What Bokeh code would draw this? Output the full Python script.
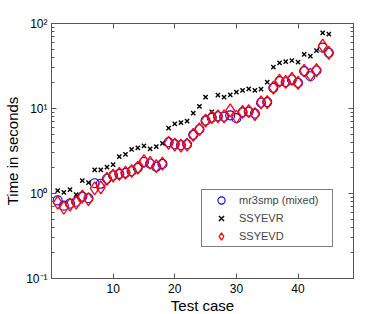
from bokeh.plotting import figure
from bokeh.models import (Range1d, FixedTicker, LinearAxis, LogAxis,
                          CustomJSTickFormatter, Legend, LegendItem)
from bokeh.embed import file_html
from bokeh.resources import INLINE

cases = list(range(1, 46))
mr3smp = [0.83, 0.72, 0.76, 0.80, 0.92, 0.88, 1.32, 1.30, 1.49, 1.63,
          1.70, 1.75, 1.83, 2.00, 2.35, 2.25, 2.06, 2.23, 4.00, 3.80,
          3.70, 3.80, 4.90, 5.70, 7.20, 7.80, 8.10, 8.00, 8.30, 7.70,
          9.00, 9.20, 8.70, 11.7, 11.9, 17.5, 21.0, 20.4, 21.9, 20.0,
          27.5, 24.0, 28.0, 52.0, 45.2]
ssyevr = [1.08, 1.03, 1.11, 0.97, 1.42, 1.34, 1.90, 1.90, 2.04, 2.18,
          2.72, 2.88, 3.30, 3.45, 3.64, 3.36, 3.57, 3.90, 5.86, 6.60,
          6.84, 7.10, 8.80, 10.6, 13.6, 9.10, 14.4, 13.6, 14.5, 15.6,
          16.3, 17.0, 16.3, 16.9, 20.4, 30.6, 34.4, 35.7, 36.7, 35.1,
          43.2, 41.2, 48.1, 77.6, 74.8]
ssyevd = [0.78, 0.68, 0.74, 0.78, 0.92, 0.86, 1.15, 1.18, 1.49, 1.62,
          1.70, 1.76, 1.84, 2.02, 2.40, 2.30, 2.10, 2.25, 3.95, 3.75,
          3.65, 3.75, 4.90, 5.70, 7.20, 7.90, 8.10, 8.10, 9.50, 8.00,
          9.10, 9.30, 8.60, 11.8, 11.9, 17.6, 21.3, 20.6, 22.3, 20.0,
          27.8, 25.0, 28.2, 55.0, 45.0]
series_names = ["mr3smp (mixed)", "SSYEVR", "SSYEVD"]
x_ticks = [10, 20, 30, 40]
y_ticks = [0.1, 1, 10, 100]
y_minor = [m * d for d in [0.1, 1, 10] for m in range(2, 10)]

FONT = "Liberation Sans"
AX = "#555555"

p = figure(frame_width=302, frame_height=255, y_axis_type="log",
           x_range=Range1d(0, 49), y_range=Range1d(0.1, 100),
           output_backend="svg", toolbar_location=None,
           min_border_left=51, min_border_right=37,
           min_border_top=23, min_border_bottom=36,
           background_fill_color="white", border_fill_color="white")
p.xgrid.visible = False
p.ygrid.visible = False
p.outline_line_color = AX

bottom = p.xaxis[0]
left = p.yaxis[0]

sup_js = """
const e = Math.round(Math.log10(tick));
const sup = {"-":"\u207b","0":"\u2070","1":"\u00b9","2":"\u00b2","3":"\u00b3",
             "4":"\u2074","5":"\u2075","6":"\u2076","7":"\u2077","8":"\u2078","9":"\u2079"};
return "10" + String(e).split("").map(c => sup[c]).join("");
"""
blank = CustomJSTickFormatter(code="return '';")

yt = FixedTicker(ticks=y_ticks, minor_ticks=y_minor)
xt = FixedTicker(ticks=x_ticks, minor_ticks=[])

bottom.ticker = xt
left.ticker = yt
left.formatter = CustomJSTickFormatter(code=sup_js)

right = LogAxis(ticker=yt, formatter=blank)
top = LinearAxis(ticker=xt, formatter=blank)
p.add_layout(right, "right")
p.add_layout(top, "above")

for ax in [bottom, left, right, top]:
    ax.axis_line_color = AX
    ax.major_tick_line_color = AX
    ax.minor_tick_line_color = AX
    ax.major_tick_in = 5
    ax.major_tick_out = 0
    ax.minor_tick_in = 3
    ax.minor_tick_out = 0
    ax.major_label_text_font = FONT
    ax.major_label_text_font_size = "12px"
    ax.major_label_text_color = "black"
    ax.axis_label_text_font = FONT
    ax.axis_label_text_font_size = "15px"
    ax.axis_label_text_font_style = "normal"
    ax.axis_label_text_color = "black"

bottom.axis_label = "Test case"
bottom.major_label_standoff = 5
bottom.axis_label_standoff = 1
left.axis_label = "Time in seconds"
left.major_label_standoff = 4
left.axis_label_standoff = 2
right.major_label_standoff = 0
top.major_label_standoff = 0

r1 = p.scatter(cases, mr3smp, marker="circle", size=9, fill_color=None,
               line_color="#0000ff", line_width=1.1)
r2 = p.scatter(cases, ssyevr, marker="x", size=6, line_color="black",
               line_width=1.4)
r3 = p.scatter(cases, ssyevd, marker="diamond", size=13, fill_color=None,
               line_color="#ff0000", line_width=1.3)

legend = Legend(items=[LegendItem(label=series_names[0], renderers=[r1]),
                       LegendItem(label=series_names[1], renderers=[r2]),
                       LegendItem(label=series_names[2], renderers=[r3])],
                location=(150, 31))
legend.label_text_font = FONT
legend.label_text_font_size = "11px"
legend.label_height = 18
legend.glyph_height = 18
legend.glyph_width = 36
legend.label_standoff = 0
legend.label_width = 92
legend.spacing = 0
legend.padding = 1
legend.margin = 0
legend.border_line_color = "black"
legend.border_line_width = 1
legend.background_fill_color = "white"
legend.background_fill_alpha = 1
p.add_layout(legend)

open("out.html", "w").write(file_html(p, INLINE))
